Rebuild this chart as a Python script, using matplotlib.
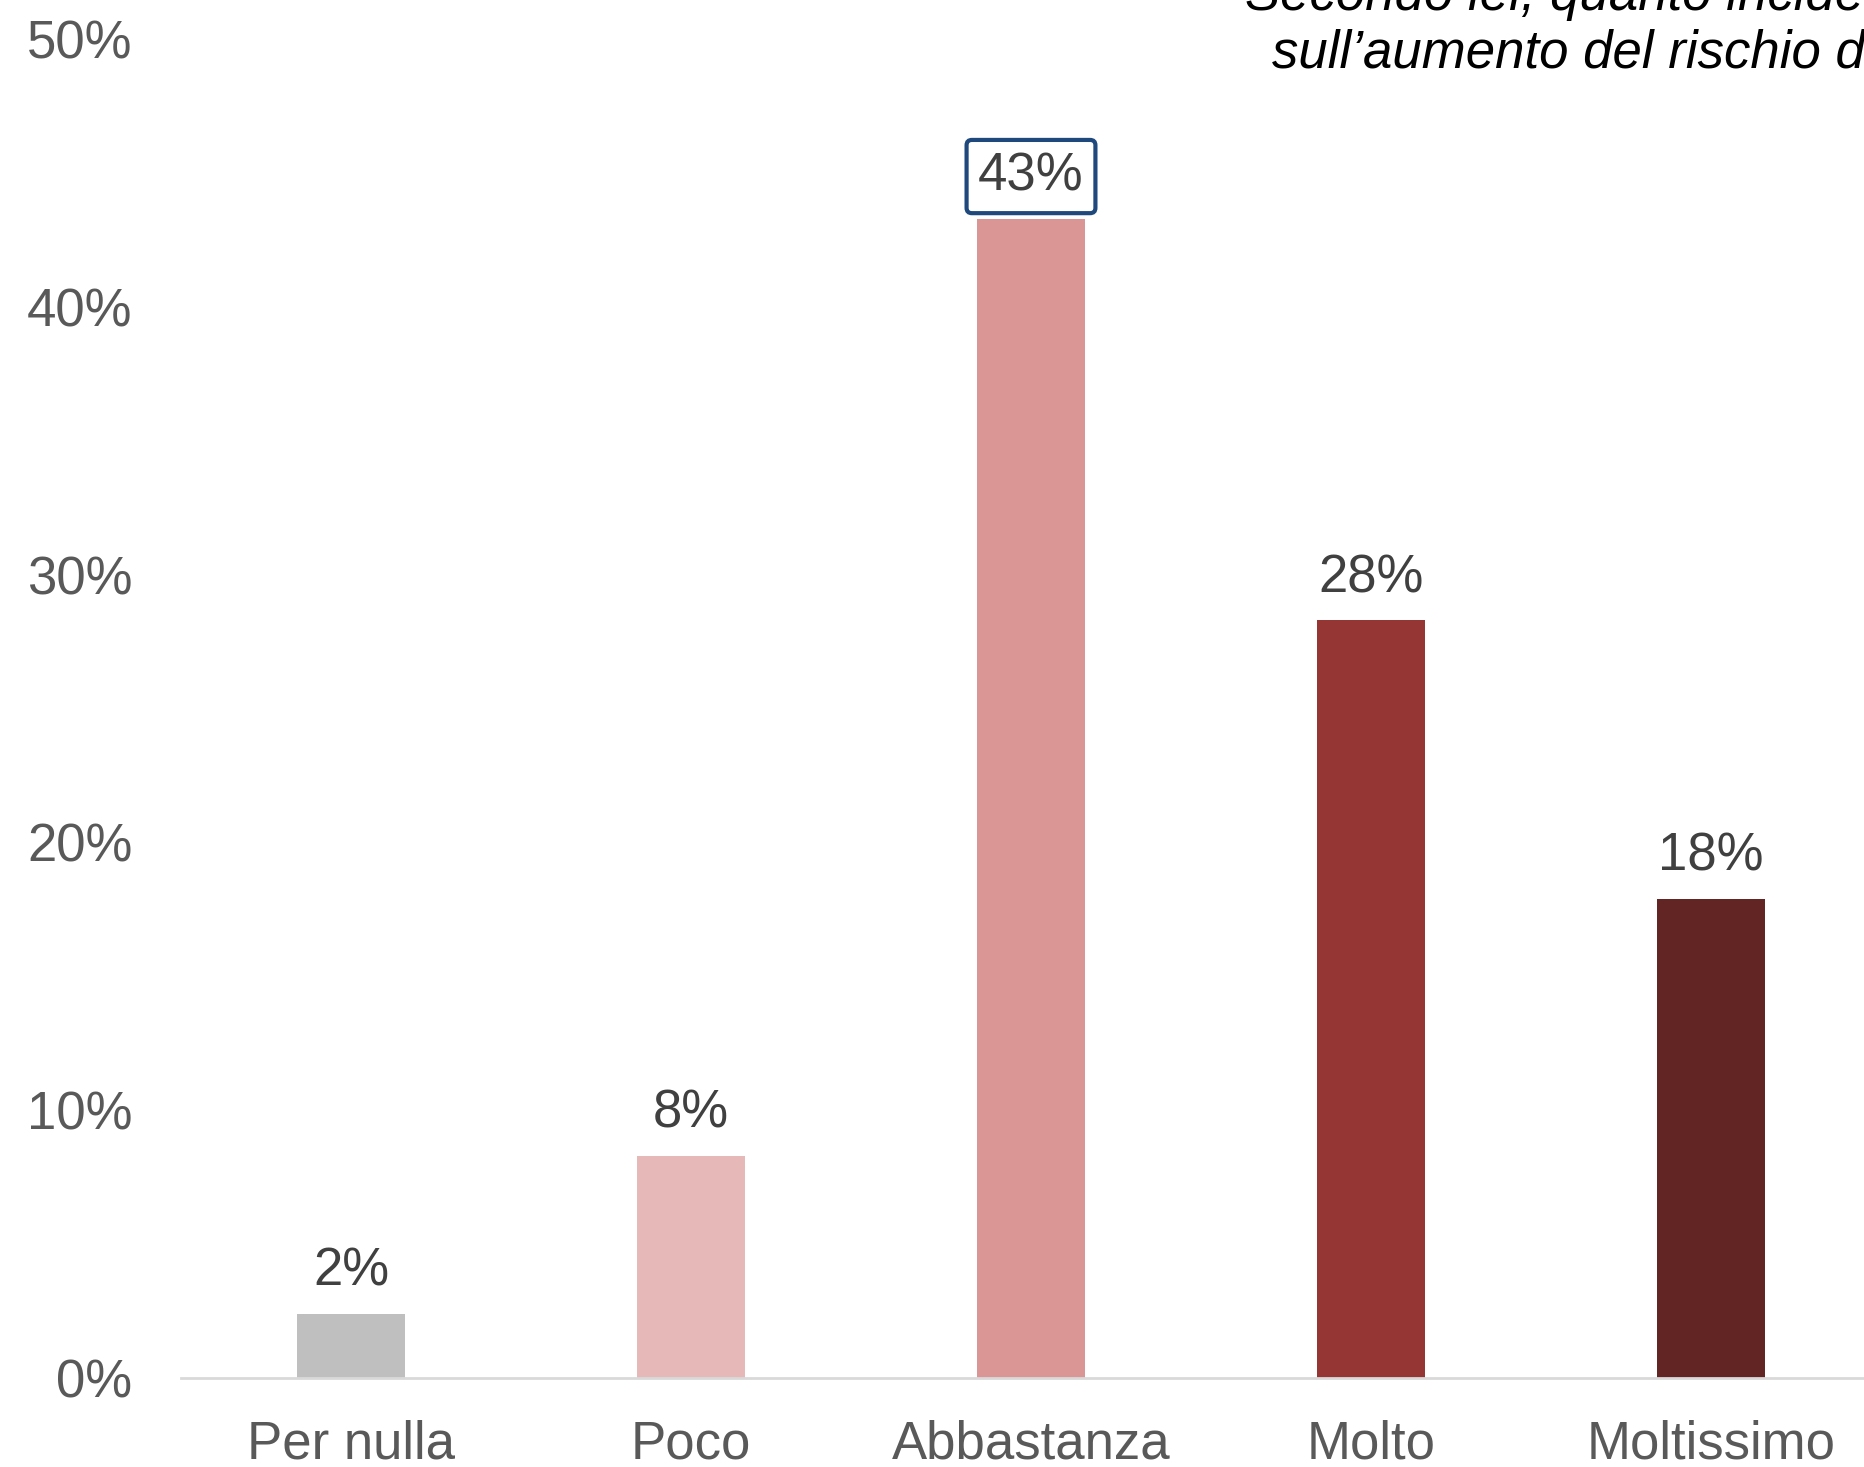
import matplotlib.pyplot as plt
from matplotlib.ticker import FuncFormatter

plt.rcParams['font.family'] = ['Liberation Sans', 'DejaVu Sans']

categories = ['Per nulla', 'Poco', 'Abbastanza', 'Molto', 'Moltissimo']
values = [2.4, 8.3, 43.3, 28.3, 17.9]
colors = ['#BFBFBF', '#E6B8B7', '#DA9694', '#963634', '#632523']
title_lines = ['Secondo lei, quanto incide', 'sull\u2019aumento del rischio di']
highlight = 'Abbastanza'


def main():
	fig = plt.figure(figsize=(18.64, 14.67), dpi=100)
	ax = fig.add_axes([0.0971, 0.0608, 0.9029, 0.9125])

	x = list(range(len(categories)))
	ax.bar(x, values, width=0.318, color=colors, zorder=2)

	for i, v in enumerate(values):
		kw = {}
		if categories[i] == highlight:
			kw['bbox'] = dict(boxstyle='round,pad=0.22,rounding_size=0.1', fc='white',
							  ec='#1F497D', lw=3)
		ax.annotate('%d%%' % round(v), (i, v), xytext=(0, 17), textcoords='offset pixels',
					ha='center', va='bottom', fontsize=38, color='#404040', **kw)

	ax.set_xlim(-0.5, 4.45)
	ax.set_ylim(0, 50)
	ax.set_yticks([0, 10, 20, 30, 40, 50])
	ax.yaxis.set_major_formatter(FuncFormatter(lambda v, p: '%d%%' % v))
	ax.set_xticks(x)
	ax.set_xticklabels(categories)

	ax.tick_params(axis='y', length=0, pad=35, labelsize=38, labelcolor='#595959')
	ax.tick_params(axis='x', length=0, pad=30, labelsize=38, labelcolor='#595959')

	for s in ['top', 'right', 'left']:
		ax.spines[s].set_visible(False)
	ax.spines['bottom'].set_color('#D9D9D9')
	ax.spines['bottom'].set_linewidth(2)
	ax.spines['bottom'].set_zorder(3)

	# title runs off the right edge
	fig.text(1245 / 1864, 1 - 10 / 1467, title_lines[0], fontsize=38, style='italic',
			 ha='left', va='baseline', color='black')
	fig.text(1272 / 1864, 1 - 67 / 1467, title_lines[1], fontsize=38, style='italic',
			 ha='left', va='baseline', color='black')

	fig.savefig('out.png', dpi=100)


if __name__ == '__main__':
	main()
